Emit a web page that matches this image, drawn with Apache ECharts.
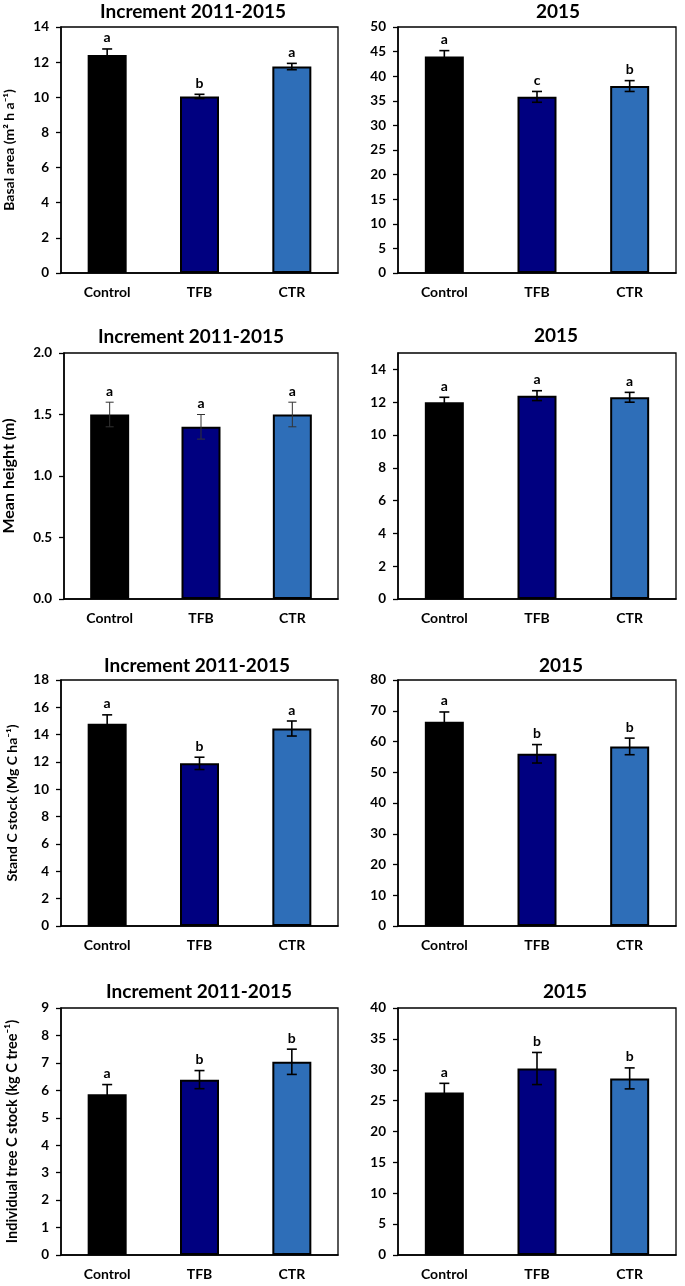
<!DOCTYPE html>
<html><head><meta charset="utf-8">
<script src="https://cdn.jsdelivr.net/npm/echarts@6/dist/echarts.min.js"></script>
<style>html,body{margin:0;padding:0;background:#fff}#c{width:685px;height:1286px}</style>
</head><body><div id="c"></div>
<script>
// ---------- data ----------
const categories = ['Control', 'TFB', 'CTR'];

const basalIncMean = [12.4, 10.05, 11.75];
const basalIncErr = [0.35, 0.12, 0.18];
const basalIncLetters = ['a', 'b', 'a'];

const basal2015Mean = [44.0, 35.8, 38.0];
const basal2015Err = [1.2, 1.1, 1.1];
const basal2015Letters = ['a', 'c', 'b'];

const heightIncMean = [1.5, 1.4, 1.5];
const heightIncErr = [0.1, 0.1, 0.1];
const heightIncLetters = ['a', 'a', 'a'];

const height2015Mean = [12.0, 12.4, 12.3];
const height2015Err = [0.3, 0.3, 0.3];
const height2015Letters = ['a', 'a', 'a'];

const standIncMean = [14.8, 11.9, 14.45];
const standIncErr = [0.65, 0.45, 0.55];
const standIncLetters = ['a', 'b', 'a'];

const stand2015Mean = [66.4, 56.0, 58.4];
const stand2015Err = [3.2, 3.0, 2.7];
const stand2015Letters = ['a', 'b', 'b'];

const treeIncMean = [5.86, 6.39, 7.04];
const treeIncErr = [0.35, 0.33, 0.46];
const treeIncLetters = ['a', 'b', 'b'];

const tree2015Mean = [26.3, 30.2, 28.6];
const tree2015Err = [1.5, 2.6, 1.7];
const tree2015Letters = ['a', 'b', 'b'];

const titleInc = 'Increment 2011-2015';
const title2015 = '2015';
const yNames = ['Basal area (m\u00b2 h a\u207b\u00b9)', 'Mean height (m)', 'Stand C stock (Mg C ha\u207b\u00b9)', 'Individual tree C stock (kg C tree\u207b\u00b9)'];

// axis ranges [max, interval]
const yMaxes = [14, 50, 2, 15, 18, 80, 9, 40];
const yIntervals = [2, 5, 0.5, 2, 2, 10, 1, 5];

const panels = [
  { title: titleInc, mean: basalIncMean, err: basalIncErr, letters: basalIncLetters },
  { title: title2015, mean: basal2015Mean, err: basal2015Err, letters: basal2015Letters },
  { title: titleInc, mean: heightIncMean, err: heightIncErr, letters: heightIncLetters },
  { title: title2015, mean: height2015Mean, err: height2015Err, letters: height2015Letters },
  { title: titleInc, mean: standIncMean, err: standIncErr, letters: standIncLetters },
  { title: title2015, mean: stand2015Mean, err: stand2015Err, letters: stand2015Letters },
  { title: titleInc, mean: treeIncMean, err: treeIncErr, letters: treeIncLetters },
  { title: title2015, mean: tree2015Mean, err: tree2015Err, letters: tree2015Letters }
];

// ---------- layout / style ----------
const FONT = 'Lato, "Open Sans", sans-serif';
const barColors = ['#000000', '#000080', '#2E6EB8'];
const colL = { left: 61, width: 277 };
const colR = { left: 398, width: 278 };
const rows = [
  { top: 27, height: 246 },
  { top: 353, height: 246 },
  { top: 680, height: 246 },
  { top: 1008, height: 247 }
];
const titlePos = [[193, 12], [558, 12], [191, 337], [556, 336], [197, 666], [561, 666], [199, 992], [565, 992]];
const nameGaps = [45, 47, 42, 41];
const nameSizes = [14, 16, 14, 14.5];

const chart = echarts.init(document.getElementById('c'), null, { renderer: 'canvas' });

const grid = [], xAxis = [], yAxis = [], series = [], graphic = [];

panels.forEach((p, i) => {
  const r = Math.floor(i / 2), c = i % 2;
  const col = c === 0 ? colL : colR;
  grid.push({
    left: col.left, width: col.width, top: rows[r].top, height: rows[r].height,
    show: true, borderColor: '#000', borderWidth: 1.3, backgroundColor: 'transparent'
  });
  xAxis.push({
    type: 'category', gridIndex: i, data: categories,
    axisLine: { show: true, lineStyle: { color: '#000', width: 1.5 } },
    axisTick: { show: false },
    axisLabel: { color: '#000', fontFamily: FONT, fontWeight: 'bold', fontSize: 14, margin: 12 }
  });
  const y = {
    type: 'value', gridIndex: i, min: 0, max: yMaxes[i], interval: yIntervals[i],
    axisLine: { show: true, lineStyle: { color: '#000', width: 1.5 } },
    axisTick: { show: true, inside: false, length: 5, lineStyle: { color: '#000', width: 1.3 } },
    splitLine: { show: false },
    axisLabel: {
      color: '#000', fontFamily: FONT, fontWeight: 'bold', fontSize: 13.5, margin: 12,
      showMaxLabel: yMaxes[i] % yIntervals[i] === 0,
      formatter: i === 2 ? (v => v.toFixed(1)) : (v => String(v))
    }
  };
  if (c === 0) {
    Object.assign(y, {
      name: yNames[r], nameLocation: 'middle', nameRotate: 90, nameGap: nameGaps[r],
      nameTextStyle: { color: '#000', fontFamily: FONT, fontWeight: 'bold', fontSize: nameSizes[r] }
    });
  }
  yAxis.push(y);

  series.push({
    type: 'bar', xAxisIndex: i, yAxisIndex: i, barWidth: 39, z: 2,
    data: p.mean.map((v, k) => ({ value: v, itemStyle: { color: barColors[k] } })),
    itemStyle: { borderColor: '#000', borderWidth: 2 },
    silent: true
  });

  const thin = (i === 2);
  series.push({
    type: 'custom', xAxisIndex: i, yAxisIndex: i, z: 5, silent: true,
    data: p.mean.map((v, k) => [k, v, p.err[k]]),
    renderItem: (params, api) => {
      const k = api.value(0), m = api.value(1), e = api.value(2);
      const top = api.coord([k, m + e]);
      const bot = api.coord([k, m - e]);
      const x = top[0];
      const lw = thin ? 1 : 1.6;
      const stroke = thin ? '#333' : '#000';
      const cap = thin ? 4 : 5;
      return {
        type: 'group', children: [
          { type: 'line', shape: { x1: x, y1: top[1], x2: x, y2: bot[1] }, style: { stroke, lineWidth: lw } },
          { type: 'line', shape: { x1: x - cap, y1: top[1], x2: x + cap, y2: top[1] }, style: { stroke, lineWidth: lw } },
          { type: 'line', shape: { x1: x - cap, y1: bot[1], x2: x + cap, y2: bot[1] }, style: { stroke, lineWidth: lw } },
          {
            type: 'text', style: {
              text: p.letters[params.dataIndex], x: x, y: top[1] - 4,
              align: 'center', verticalAlign: 'bottom',
              font: 'bold 14px ' + FONT, fill: '#000'
            }
          }
        ]
      };
    }
  });

  graphic.push({
    type: 'text', x: titlePos[i][0], y: titlePos[i][1],
    style: {
      text: p.title, align: 'center', verticalAlign: 'middle',
      font: 'bold 19px ' + FONT, fill: '#000'
    }
  });
});

chart.setOption({
  backgroundColor: '#fff',
  animation: false,
  grid, xAxis, yAxis, series, graphic
});
</script>
</body></html>
